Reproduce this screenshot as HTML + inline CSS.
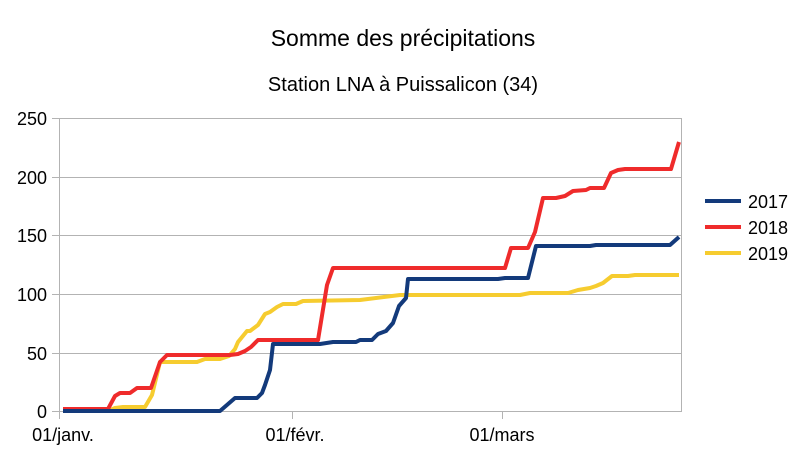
<!DOCTYPE html>
<html><head><meta charset="utf-8"><style>body{margin:0;background:#fff}</style></head><body>
<svg width="806" height="454" xmlns="http://www.w3.org/2000/svg" font-family="Liberation Sans, sans-serif">
<rect width="806" height="454" fill="#fff"/>
<text x="403" y="46" font-size="23" text-anchor="middle" fill="#000">Somme des précipitations</text>
<text x="403" y="91" font-size="20" text-anchor="middle" fill="#000">Station LNA à Puissalicon (34)</text>
<g stroke="#b3b3b3" stroke-width="1">
<line x1="59" y1="118.5" x2="682" y2="118.5"/><line x1="59" y1="177.5" x2="682" y2="177.5"/>
<line x1="59" y1="235.5" x2="682" y2="235.5"/><line x1="59" y1="294.5" x2="682" y2="294.5"/>
<line x1="59" y1="353.5" x2="682" y2="353.5"/><line x1="59" y1="411.5" x2="682" y2="411.5"/>
<line x1="59.5" y1="118" x2="59.5" y2="411"/><line x1="681.5" y1="118" x2="681.5" y2="411"/>
<line x1="52" y1="118.5" x2="59" y2="118.5"/><line x1="52" y1="177.5" x2="59" y2="177.5"/><line x1="52" y1="235.5" x2="59" y2="235.5"/><line x1="52" y1="294.5" x2="59" y2="294.5"/><line x1="52" y1="353.5" x2="59" y2="353.5"/><line x1="52" y1="411.5" x2="59" y2="411.5"/>
<line x1="59.5" y1="411" x2="59.5" y2="419"/><line x1="292.5" y1="411" x2="292.5" y2="419"/><line x1="502.5" y1="411" x2="502.5" y2="419"/>
</g>
<g font-size="18" text-anchor="end" fill="#000">
<text x="47" y="125">250</text><text x="47" y="184">200</text><text x="47" y="242">150</text><text x="47" y="301">100</text><text x="47" y="360">50</text><text x="47" y="418">0</text>
</g>
<g font-size="18" text-anchor="middle" fill="#000">
<text x="63" y="441">01/janv.</text><text x="295" y="441">01/févr.</text><text x="502" y="441">01/mars</text>
</g>
<g fill="none" stroke-width="4" stroke-linejoin="round">
<polyline stroke="#f6cc2f" points="63,411 108,411 115,408 123,407 145,407 152,395 160,362 197,362 205,359 220,359 229,356 235,349 238,342 247,331 250,331 258,325 265,314 270,312 277,307 283,304 296,304 303,301 360,300 400,295 520,295 530,293 568,293 578,290 590,288 596,286 603,283 612,276 628,276 635,275 679,275"/>
<polyline stroke="#ef2b2b" points="63,409 108,409 115,396 120,393 130,393 137,388 151,388 160,362 167,355 230,355 238,354 245,351 251,347 258,340 318,340 327,285 333,268 505,268 511,248 528,248 535,232 543,198 556,198 565,196 573,191 586,190 590,188 604,188 611,173 618,170 625,169 671,169 679,142"/>
<polyline stroke="#133a7b" points="63,411 220,411 235,398 257,398 262,393 265,385 270,370 273,344 320,344 333,342 356,342 360,340 372,340 378,334 386,331 393,323 399,306 406,298 408,279 498,279 505,278 528,278 536,246 590,246 596,245 670,245 679,237"/>
</g>
<g stroke-width="4">
<line x1="705" y1="201" x2="741" y2="201" stroke="#133a7b"/>
<line x1="705" y1="227" x2="741" y2="227" stroke="#ef2b2b"/>
<line x1="705" y1="253" x2="741" y2="253" stroke="#f6cc2f"/>
</g>
<g font-size="18" fill="#000">
<text x="748" y="208">2017</text><text x="748" y="234">2018</text><text x="748" y="260">2019</text>
</g>
</svg>
</body></html>
